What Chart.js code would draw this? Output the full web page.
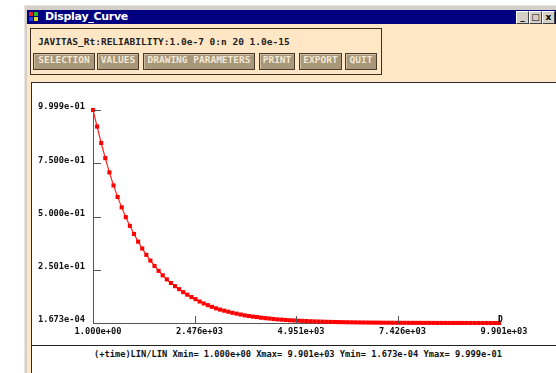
<!DOCTYPE html>
<html>
<head>
<meta charset="utf-8">
<script src="https://cdn.jsdelivr.net/npm/chart.js@4"></script>
<style>
  body { margin: 0; width: 556px; height: 373px; overflow: hidden; background: #fff; position: relative; font-family: "DejaVu Sans Mono", monospace; }
  .abs { position: absolute; }
  #frame { left: 24px; top: 5px; width: 540px; height: 380px; background: #d4d0c8; border-top: 1px solid #e8e6e0; border-left: 1px solid #e8e6e0; }
  #titlebar { left: 27px; top: 10px; width: 540px; height: 14px; background: #000080; }
  #title { left: 45px; top: 10px; height: 14px; line-height: 14px; color: #fff; font: bold 11px "DejaVu Sans", sans-serif; letter-spacing: -0.3px; }
  #beige { left: 27px; top: 24px; width: 540px; height: 360px; background: #ffe7c6; }
  #box { left: 30px; top: 28px; width: 350px; height: 45px; border: 1px solid #3a3026; }
  #hdr { left: 38px; top: 36px; font: bold 9.5px "DejaVu Sans Mono", monospace; color: #222; white-space: pre; }
  .btn { top: 53px; height: 15px; line-height: 15px; background: #a8977a; border: 1px solid #4a3c2a; box-shadow: inset 1px 1px 0 #cbbd9f; color: #f3e8d4; font: bold 9.5px "DejaVu Sans Mono", monospace; text-align: center; }
  #white { left: 31px; top: 82px; width: 540px; height: 300px; background: #fff; border-top: 1px solid #2a2a2a; border-left: 1px solid #2a2a2a; }
  #hline { left: 31px; top: 345px; width: 540px; height: 1px; background: #222; }
  #footer { left: 94px; top: 349px; font: bold 8.7px "DejaVu Sans Mono", monospace; color: #111; white-space: pre; }
  .wb { top: 11px; width: 11px; height: 11px; background: #d4d0c8; border-top: 1px solid #fff; border-left: 1px solid #fff; border-right: 1px solid #404040; border-bottom: 1px solid #404040; font: bold 9px "DejaVu Sans", sans-serif; line-height: 11px; text-align: center; color: #000; }
  #icon { left: 29px; top: 12px; width: 9px; height: 9px; }
  #icon div { position: absolute; width: 4px; height: 4px; }
  canvas { position: absolute; left: 0; top: 0; }
</style>
</head>
<body>
<div id="frame" class="abs"></div>
<div id="titlebar" class="abs"></div>
<div id="icon" class="abs">
  <div style="left:0;top:0;background:#e02020"></div>
  <div style="left:5px;top:0;background:#20c020"></div>
  <div style="left:0;top:5px;background:#2040e0"></div>
  <div style="left:5px;top:5px;background:#e0e020"></div>
</div>
<div id="title" class="abs">Display_Curve</div>
<div class="abs wb" style="left:516px">_</div>
<div class="abs wb" style="left:529px">&#9633;</div>
<div class="abs wb" style="left:542px">x</div>
<div id="beige" class="abs"></div>
<div id="box" class="abs"></div>
<div id="hdr" class="abs">JAVITAS_Rt:RELIABILITY:1.0e-7 0:n 20 1.0e-15</div>
<div class="abs btn" style="left:33px;width:60px">SELECTION</div>
<div class="abs btn" style="left:97px;width:40px">VALUES</div>
<div class="abs btn" style="left:143px;width:110px">DRAWING PARAMETERS</div>
<div class="abs btn" style="left:259px;width:34px">PRINT</div>
<div class="abs btn" style="left:299px;width:41px">EXPORT</div>
<div class="abs btn" style="left:345px;width:30px">QUIT</div>
<div id="white" class="abs"></div>
<div id="hline" class="abs"></div>
<div id="footer" class="abs">(+time)LIN/LIN Xmin= 1.000e+00 Xmax= 9.901e+03 Ymin= 1.673e-04 Ymax= 9.999e-01</div>
<canvas id="chartCanvas" width="556" height="373"></canvas>
<script>
// time values: 1, 101, ... 9901
const times = [];
for (let i = 0; i < 100; i++) times.push(1 + 100 * i);

// reliability
const reliability = [
  0.9999, 0.922, 0.845, 0.774, 0.707, 0.646, 0.592, 0.543, 0.497, 0.456,
  0.418, 0.382, 0.350, 0.320, 0.293, 0.268, 0.245, 0.224, 0.205, 0.188,
  0.173, 0.159, 0.145, 0.133, 0.122, 0.112, 0.101, 0.092, 0.084, 0.076,
  0.069, 0.063, 0.058, 0.053, 0.048, 0.044, 0.040, 0.036, 0.033, 0.030,
  0.028, 0.025, 0.023, 0.021, 0.019, 0.017, 0.016, 0.0145, 0.013, 0.012,
  0.011, 0.010, 0.0092, 0.0084, 0.0077, 0.0070, 0.0064, 0.0058, 0.0053, 0.0048,
  0.0044, 0.0040, 0.0037, 0.0034, 0.0031, 0.0028, 0.0026, 0.0023, 0.0021, 0.0019,
  0.0018, 0.0016, 0.0015, 0.0013, 0.0012, 0.0011, 0.0010, 0.00093, 0.00085, 0.00078,
  0.00071, 0.00065, 0.00059, 0.00054, 0.00050, 0.00045, 0.00041, 0.00038, 0.00035, 0.00032,
  0.00029, 0.00027, 0.00024, 0.00022, 0.00020, 0.00019, 0.00018, 0.000175, 0.00017, 0.0001673
];

const xTicks = [1, 2476, 4951, 7426, 9901];
const xTickLabels = ['1.000e+00', '2.476e+03', '4.951e+03', '7.426e+03', '9.901e+03'];
const yTicks = [0.0001673, 0.2501, 0.5000, 0.7500, 0.9999];
const yTickLabels = ['1.673e-04', '2.501e-01', '5.000e-01', '7.500e-01', '9.999e-01'];

const tickFont = { family: 'DejaVu Sans Mono', size: 8.7, weight: 'bold' };
const axisColor = '#555';

// ticks drawn inside the plot, plus the end marker
const innerTicks = {
  id: 'innerTicks',
  afterDatasetsDraw(chart) {
    const ctx = chart.ctx;
    const xs = chart.scales.x, ys = chart.scales.y;
    const area = chart.chartArea;
    ctx.save();
    ctx.strokeStyle = axisColor;
    ctx.lineWidth = 1;
    ctx.beginPath();
    yTicks.slice(1).forEach(v => {
      const py = Math.round(ys.getPixelForValue(v)) + 0.5;
      ctx.moveTo(area.left, py);
      ctx.lineTo(area.left + 8, py);
    });
    xTicks.slice(1).forEach(v => {
      const px = Math.round(xs.getPixelForValue(v)) + 0.5;
      ctx.moveTo(px, area.bottom);
      ctx.lineTo(px, area.bottom - 7);
    });
    ctx.stroke();
    const last = chart.getDatasetMeta(0).data[times.length - 1];
    ctx.fillStyle = '#000';
    ctx.font = 'bold 8px "DejaVu Sans Mono"';
    ctx.textAlign = 'center';
    ctx.textBaseline = 'middle';
    ctx.fillText('D', last.x + 1.5, last.y - 3);
    ctx.restore();
  }
};

new Chart(document.getElementById('chartCanvas'), {
  type: 'line',
  data: {
    labels: times,
    datasets: [{
      data: times.map((t, i) => ({ x: t, y: reliability[i] })),
      borderColor: '#ff2020',
      borderWidth: 1.2,
      pointStyle: 'rect',
      pointRadius: 2.9,
      pointBackgroundColor: '#ff0000',
      pointBorderWidth: 0,
      tension: 0,
      clip: false
    }]
  },
  options: {
    responsive: false,
    animation: false,
    events: [],
    layout: { padding: { left: 0, top: 110, right: 57, bottom: 0 } },
    plugins: { legend: { display: false }, tooltip: { enabled: false } },
    scales: {
      x: {
        type: 'linear',
        min: 1,
        max: 9901,
        afterFit: s => { s.height = 50; },
        afterBuildTicks: s => { s.ticks = xTicks.map(v => ({ value: v })); },
        ticks: {
          autoSkip: false,
          maxRotation: 0,
          padding: 4,
          labelOffset: 5,
          color: '#111',
          font: tickFont,
          callback: (v, i) => xTickLabels[i]
        },
        grid: { drawOnChartArea: false, drawTicks: false },
        border: { color: axisColor, width: 1 }
      },
      y: {
        type: 'linear',
        min: 0.0001673,
        max: 0.9999,
        afterFit: s => { s.width = 93; },
        afterBuildTicks: s => { s.ticks = yTicks.map(v => ({ value: v })); },
        ticks: {
          autoSkip: false,
          padding: 8,
          labelOffset: -3,
          color: '#111',
          font: tickFont,
          callback: (v, i) => yTickLabels[i]
        },
        grid: { drawOnChartArea: false, drawTicks: false },
        border: { color: axisColor, width: 1 }
      }
    }
  },
  plugins: [innerTicks]
});
</script>
</body>
</html>
